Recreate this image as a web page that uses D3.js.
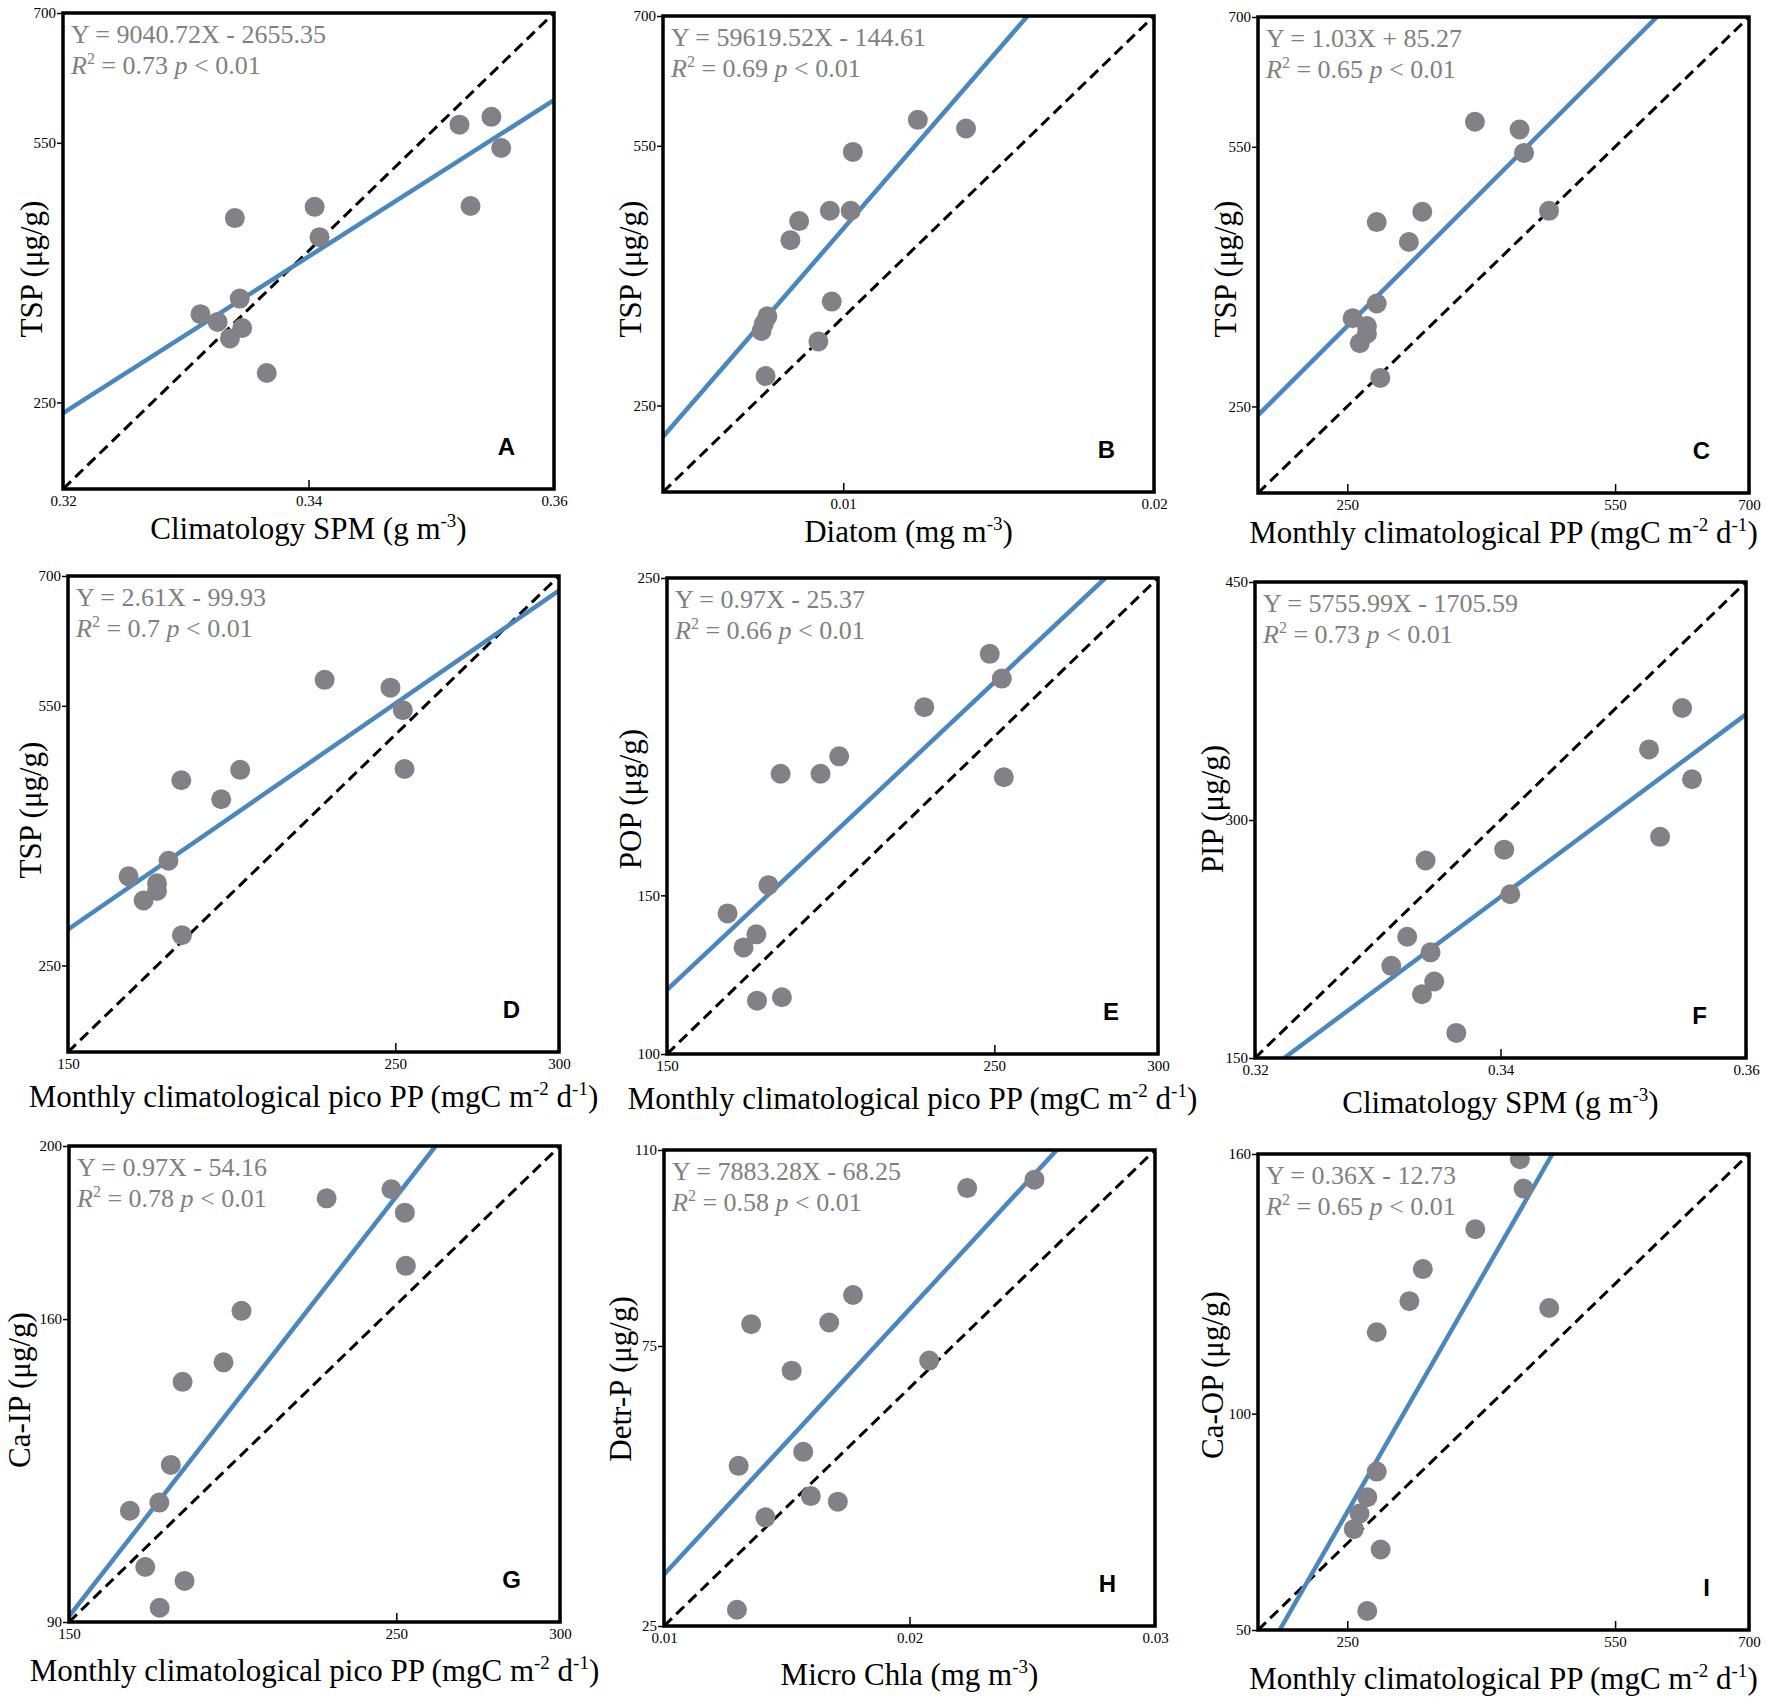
<!DOCTYPE html>
<html>
<head>
<meta charset="utf-8">
<script src="https://cdn.jsdelivr.net/npm/d3@7"></script>
<style>
body { margin: 0; background: #fff; }
</style>
</head>
<body>
<svg width="1772" height="1703" font-family='"Liberation Serif", "Times New Roman", serif'></svg>
<script>
const svg = d3.select('svg');

// values, 13 samples per panel
const xA = [0.3523, 0.3549, 0.3557, 0.3532, 0.3405, 0.3409, 0.3340, 0.3344, 0.3312, 0.3326, 0.3346, 0.3336, 0.3366];
const yA = [571, 580, 544, 477, 476, 441, 463, 370, 352, 343, 336, 324, 284];
const xB = [0.01240, 0.01395, 0.01031, 0.00957, 0.01024, 0.00858, 0.00830, 0.00963, 0.00756, 0.00737, 0.00744, 0.00920, 0.00750];
const yB = [580, 570, 543, 475, 475, 463, 441, 370, 353, 336, 344, 324, 284];
const xC = [393, 443, 448, 476, 334, 283, 319, 283, 256, 272, 272, 264, 287];
const yC = [579, 570, 543, 476, 475, 463, 440, 369, 352, 343, 334, 323, 283];
const xD = [228.4, 248.5, 252.3, 252.8, 202.6, 184.6, 196.8, 180.7, 168.5, 177.2, 177.2, 173.1, 184.8];
const yD = [580, 571, 545, 477, 476, 464, 442, 371, 353, 345, 336, 325, 285];
const xE = [248.6, 252.3, 228.6, 202.6, 184.7, 196.9, 252.9, 181.0, 168.5, 177.3, 173.4, 177.5, 185.1];
const yE = [226.1, 218.3, 209.3, 193.8, 188.3, 188.3, 187.2, 153.2, 144.3, 137.7, 133.6, 116.8, 117.9];
const xF = [0.3548, 0.3521, 0.3556, 0.3530, 0.3403, 0.3339, 0.3408, 0.3324, 0.3343, 0.3311, 0.3346, 0.3336, 0.3364];
const yF = [370.6, 344.5, 325.7, 289.4, 281.3, 274.5, 253.2, 226.4, 216.6, 208.1, 198.2, 190.2, 165.8];
const xG = [248.5, 228.7, 252.6, 252.9, 202.7, 197.2, 184.7, 181.1, 177.6, 168.6, 173.3, 185.3, 177.7];
const yG = [190.0, 187.9, 184.6, 172.3, 161.9, 150.0, 145.5, 126.3, 117.6, 115.7, 102.7, 99.5, 93.3];
const xH = [0.02509, 0.02235, 0.0177, 0.01355, 0.01673, 0.0208, 0.0152, 0.01567, 0.01304, 0.01598, 0.01708, 0.01413, 0.01297];
const yH = [104.7, 103.2, 84.1, 78.9, 79.2, 72.4, 70.6, 56.1, 53.6, 48.2, 47.2, 44.4, 27.9];
const xI = [443.3, 447.5, 393.4, 334.6, 319.6, 476.2, 283.0, 283.0, 272.4, 263.7, 257.3, 287.4, 272.4];
const yI = [158.8, 152.0, 142.6, 133.4, 126.0, 124.4, 118.8, 86.6, 80.7, 76.9, 73.3, 68.6, 54.4];

// fitted line end points (data units, as drawn)
const fitLines = [
    [[0.32, 237.7], [0.36, 599.3]],
    [[0.0042, 213.8], [0.01593, 700]],
    [[150, 239.8], [596.8, 700]],
    [[150, 291.6], [300, 683.1]],
    [[150, 120.2], [283.9, 250]],
    [[0.32238, 150], [0.36, 366.6]],
    [[150, 91.3], [262.0, 200]],
    [[0.01, 34.2], [0.026, 110]],
    [[174.25, 50], [479.8, 160]]
];

const letters = ['A', 'B', 'C', 'D', 'E', 'F', 'G', 'H', 'I'];
const equations = ['Y = 9040.72X - 2655.35', 'Y = 59619.52X - 144.61', 'Y = 1.03X + 85.27',
    'Y = 2.61X - 99.93', 'Y = 0.97X - 25.37', 'Y = 5755.99X - 1705.59',
    'Y = 0.97X - 54.16', 'Y = 7883.28X - 68.25', 'Y = 0.36X - 12.73'];
const rSquared = ['0.73', '0.69', '0.65', '0.7', '0.66', '0.73', '0.78', '0.58', '0.65'];

const xDomains = [[0.32, 0.36], [0.0042, 0.02], [150, 700], [150, 300], [150, 300], [0.32, 0.36], [150, 300], [0.01, 0.03], [150, 700]];
const yDomains = [[150, 700], [150, 700], [150, 700], [150, 700], [100, 250], [150, 450], [90, 200], [25, 110], [50, 160]];
const xTickVals = [[0.32, 0.34, 0.36], [0.01, 0.02], [250, 550, 700], [150, 250, 300], [150, 250, 300],
    [0.32, 0.34, 0.36], [150, 250, 300], [0.01, 0.02, 0.03], [250, 550, 700]];
const yTickVals = [[250, 550, 700], [250, 550, 700], [250, 550, 700], [250, 550, 700], [100, 150, 250],
    [150, 300, 450], [90, 160, 200], [25, 75, 110], [50, 100, 160]];

const yTitles = ['TSP (μg/g)', 'TSP (μg/g)', 'TSP (μg/g)', 'TSP (μg/g)', 'POP (μg/g)', 'PIP (μg/g)',
    'Ca-IP (μg/g)', 'Detr-P (μg/g)', 'Ca-OP (μg/g)'];
// [text, superscript?]
const spmTitle = [['Climatology SPM (g m'], ['-3', 1], [')']];
const ppTitle = [['Monthly climatological PP (mgC m'], ['-2', 1], [' d'], ['-1', 1], [')']];
const picoTitle = [['Monthly climatological pico PP (mgC m'], ['-2', 1], [' d'], ['-1', 1], [')']];
const xTitles = [spmTitle, [['Diatom (mg m'], ['-3', 1], [')']], ppTitle, picoTitle, picoTitle, spmTitle,
    picoTitle, [['Micro Chla (mg m'], ['-3', 1], [')']], ppTitle];

// layout
const W = 491, H = 476;
const lefts = [63, 663, 1258, 68, 667, 1255, 69, 664, 1258];
const tops = [13, 16, 17, 576, 578, 582, 1146, 1150, 1154];
const yTitleGap = [21, 22, 22, 27, 26, 32, 39, 33, 35];
const yTitleShift = [18, 15, 14, -4, -17, -11, 6, -9, -17];
const xTitleGap = [50, 50, 50, 55, 55, 55, 59, 59, 59];

const fmt = d => String(d);

letters.forEach((letter, i) => {
    const g = svg.append('g').attr('transform', `translate(${lefts[i]}, ${tops[i]})`);
    const xScale = d3.scaleLinear().domain(xDomains[i]).range([0, W]);
    const yScale = d3.scaleLinear().domain(yDomains[i]).range([H, 0]);

    g.append('clipPath').attr('id', 'clip' + letter)
        .append('rect').attr('width', W).attr('height', H);
    const plot = g.append('g').attr('clip-path', `url(#clip${letter})`);

    // 1:1 dashed line corner to corner
    plot.append('line')
        .attr('x1', xScale(xDomains[i][0])).attr('y1', yScale(yDomains[i][0]))
        .attr('x2', xScale(xDomains[i][1])).attr('y2', yScale(yDomains[i][1]))
        .attr('stroke', '#000').attr('stroke-width', 3).attr('stroke-dasharray', '11,6');

    // regression line
    const fl = fitLines[i];
    plot.append('line')
        .attr('x1', xScale(fl[0][0])).attr('y1', yScale(fl[0][1]))
        .attr('x2', xScale(fl[1][0])).attr('y2', yScale(fl[1][1]))
        .attr('stroke', '#4a87bf').attr('stroke-width', 4.5);

    const xs = [xA, xB, xC, xD, xE, xF, xG, xH, xI][i];
    const ys = [yA, yB, yC, yD, yE, yF, yG, yH, yI][i];
    plot.selectAll('circle')
        .data(xs.map((v, k) => [v, ys[k]]))
        .enter()
        .append('circle')
        .attr('cx', d => xScale(d[0]))
        .attr('cy', d => yScale(d[1]))
        .attr('r', 10)
        .attr('fill', '#818187');

    // axes
    const xAxis = g.append('g').attr('transform', `translate(0, ${H})`)
        .call(d3.axisBottom(xScale).tickValues(xTickVals[i]).tickFormat(fmt)
            .tickSizeInner(-9).tickSizeOuter(0).tickPadding(6));
    const yAxis = g.append('g')
        .call(d3.axisLeft(yScale).tickValues(yTickVals[i]).tickFormat(fmt)
            .tickSizeInner(6).tickSizeOuter(0).tickPadding(1));
    [xAxis, yAxis].forEach(a => {
        a.attr('font-family', '"Liberation Serif", serif').attr('font-size', 15);
        a.select('.domain').remove();
        a.selectAll('line').attr('stroke', '#000').attr('stroke-width', 1.5);
        a.selectAll('text').attr('fill', '#000');
    });

    // frame
    g.append('rect').attr('width', W).attr('height', H)
        .attr('fill', 'none').attr('stroke', '#000').attr('stroke-width', 3.5);

    // equation + R2
    g.append('text').attr('x', 8).attr('y', 30)
        .attr('font-size', 26).attr('fill', '#808080')
        .text(equations[i]);
    const r2 = g.append('text').attr('x', 8).attr('y', 61)
        .attr('font-size', 26).attr('fill', '#808080');
    r2.append('tspan').attr('font-style', 'italic').text('R');
    r2.append('tspan').attr('font-size', 16).attr('dy', -10).text('2');
    r2.append('tspan').attr('dy', 10).text(' = ' + rSquared[i] + ' ');
    r2.append('tspan').attr('font-style', 'italic').text('p');
    r2.append('tspan').text(' < 0.01');

    // panel letter
    g.append('text').attr('x', W - 39).attr('y', H - 34)
        .attr('text-anchor', 'end')
        .attr('font-family', '"Liberation Sans", Arial, sans-serif')
        .attr('font-weight', 'bold').attr('font-size', 24)
        .text(letter);

    // y title
    g.append('text')
        .attr('transform', `translate(${-yTitleGap[i]}, ${H / 2 + yTitleShift[i]}) rotate(-90)`)
        .attr('text-anchor', 'middle')
        .attr('font-size', 31)
        .text(yTitles[i]);

    // x title with superscripts
    const xt = g.append('text')
        .attr('x', W / 2).attr('y', H + xTitleGap[i])
        .attr('text-anchor', 'middle')
        .attr('font-size', 31);
    let up = false;
    xTitles[i].forEach(seg => {
        const t = xt.append('tspan').text(seg[0]);
        if (seg[1]) {
            t.attr('font-size', 19).attr('dy', -12);
            up = true;
        } else if (up) {
            t.attr('dy', 12);
            up = false;
        }
    });
});
</script>
</body>
</html>
